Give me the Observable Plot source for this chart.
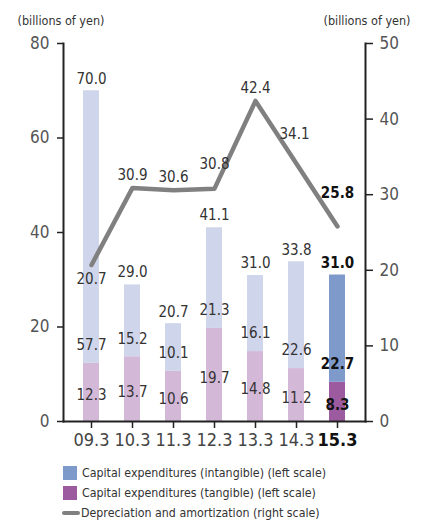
<!DOCTYPE html>
<html>
<head>
<meta charset="utf-8">
<script src="https://cdn.jsdelivr.net/npm/d3@7"></script>
<script src="https://cdn.jsdelivr.net/npm/@observablehq/plot@0.6"></script>
<style>
  body { margin: 0; background: #fff; font-family: "Liberation Sans Narrow", "DejaVu Sans Condensed", "Roboto", sans-serif; }
  #chart { width: 426px; }
  .legend { margin: 7px 0 0 63px; font-size: 12.3px; color: #333; }
  .legend .row { display: flex; align-items: center; height: 20px; }
  .legend .sw { width: 14px; height: 14px; margin-right: 5px; }
  .legend .ln { width: 18px; height: 4px; border-radius: 2px; background: #808080; margin: 0 1px 0 -1px; }
</style>
</head>
<body>
<div id="chart"></div>
<script>
// Fiscal years (ending March)
const periods = ["09.3", "10.3", "11.3", "12.3", "13.3", "14.3", "15.3"];
// Capital expenditures, billions of yen (left scale)
const capexTotal      = [70.0, 29.0, 20.7, 41.1, 31.0, 33.8, 31.0];
const capexIntangible = [57.7, 15.2, 10.1, 21.3, 16.1, 22.6, 22.7];
const capexTangible   = [12.3, 13.7, 10.6, 19.7, 14.8, 11.2, 8.3];
// Depreciation and amortization, billions of yen (right scale)
const depreciation    = [20.7, 30.9, 30.6, 30.8, 42.4, 34.1, 25.8];
// Axis ticks
const leftTicks  = [0, 20, 40, 60, 80];
const rightTicks = [0, 10, 20, 30, 40, 50];

const latest = periods[periods.length - 1];
const k = 80 / 50; // right-scale value -> left-scale value

const colors = {
  intangible: { past: "#cfd5ea", latest: "#7e9acb" },
  tangible:   { past: "#d3b8d8", latest: "#9b5b9e" }
};

// Tangible first so it sits at the bottom of each stack
const bars = [
  ...periods.map((p, i) => ({ period: p, kind: "tangible", value: capexTangible[i] })),
  ...periods.map((p, i) => ({ period: p, kind: "intangible", value: capexIntangible[i] }))
];
const rows = periods.map((p, i) => ({
  period: p,
  total: capexTotal[i],
  intangible: capexIntangible[i],
  tangible: capexTangible[i],
  dep: depreciation[i]
}));

const fmt = d3.format(".1f");
const labelFont = 15;
const isLatest = d => d.period === latest;
const notLatest = d => d.period !== latest;

// Offset of each depreciation label from its point
function depOffset(p) {
  if (p === "09.3") return { dx: 0, dy: 14 };
  if (p === "12.3") return { dx: 0, dy: -24 };
  if (p === "14.3") return { dx: -2, dy: -30 };
  if (p === "15.3") return { dx: 0, dy: -33 };
  return { dx: 0, dy: -13 };
}

const valueLabels = (data, bold) => [
  Plot.text(data, { x: "period", y: "total", text: d => fmt(d.total), dy: -12,
    fontSize: labelFont, fill: bold ? "#111" : "#333", fontWeight: bold ? "bold" : "normal" }),
  Plot.text(data, { x: "period", y: "tangible", text: d => fmt(d.intangible), dy: -18,
    fontSize: labelFont, fill: bold ? "#111" : "#333", fontWeight: bold ? "bold" : "normal" }),
  Plot.text(data, { x: "period", y: d => d.tangible / 2, text: d => fmt(d.tangible), dy: 3,
    fontSize: labelFont, fill: bold ? "#111" : "#333", fontWeight: bold ? "bold" : "normal" })
];

const depLabels = rows.map(r => {
  const o = depOffset(r.period);
  const bold = r.period === latest;
  return Plot.text([r], { x: "period", y: d => d.dep * k, text: d => fmt(d.dep),
    dx: o.dx, dy: o.dy, fontSize: labelFont,
    fill: bold ? "#111" : "#333", fontWeight: bold ? "bold" : "normal" });
});

const chart = Plot.plot({
  width: 426,
  height: 456,
  marginLeft: 63,
  marginRight: 61,
  marginTop: 43,
  marginBottom: 35,
  style: { fontFamily: '"Liberation Sans Narrow", "DejaVu Sans Condensed", "Roboto", sans-serif', background: "#fff" },
  x: { domain: periods, paddingInner: 0.617, paddingOuter: 0.42, label: null },
  y: { domain: [0, 80], label: null },
  marks: [
    Plot.barY(bars, {
      x: "period", y: "value",
      fill: d => colors[d.kind][d.period === latest ? "latest" : "past"]
    }),
    Plot.line(rows, { x: "period", y: d => d.dep * k, stroke: "#808080", strokeWidth: 4.5, strokeLinejoin: "round", strokeLinecap: "round" }),
    ...valueLabels(rows.filter(notLatest), false),
    ...valueLabels(rows.filter(isLatest), true),
    ...depLabels,
    // Axis lines
    Plot.frame({ anchor: "left", stroke: "#222", strokeWidth: 2 }),
    Plot.frame({ anchor: "right", stroke: "#222", strokeWidth: 2 }),
    Plot.frame({ anchor: "bottom", stroke: "#222", strokeWidth: 2 }),
    // Left axis
    Plot.axisY(leftTicks, { anchor: "left", tickSize: 6, tickPadding: 8, fontSize: 17,
      stroke: "#222", strokeWidth: 1.5, fill: "#555", label: null }),
    // Right axis (depreciation scale)
    Plot.axisY(rightTicks.map(v => v * k), { anchor: "right", tickSize: 7, tickPadding: 7, fontSize: 17,
      tickFormat: d => Math.round(d / k), stroke: "#222", strokeWidth: 1.5, fill: "#555", label: null }),
    // Bottom axis
    Plot.axisX(periods.filter(p => p !== latest), { tickSize: 7, tickPadding: 5, fontSize: 18,
      stroke: "#222", strokeWidth: 1.5, fill: "#444", label: null }),
    Plot.axisX([latest], { tickSize: 7, tickPadding: 5, fontSize: 18, fontWeight: "bold",
      stroke: "#222", strokeWidth: 1.5, fill: "#111", label: null }),
    // Unit labels
    Plot.text(["(billions of yen)"], { frameAnchor: "top-left", textAnchor: "start", dx: -46, dy: -27, fontSize: 12.5, fill: "#333" }),
    Plot.text(["(billions of yen)"], { frameAnchor: "top-right", textAnchor: "end", dx: 45, dy: -27, fontSize: 12.5, fill: "#333" })
  ]
});

document.getElementById("chart").append(chart);

// Legend
const legend = document.createElement("div");
legend.className = "legend";
legend.innerHTML = `
  <div class="row"><span class="sw" style="background:${colors.intangible.latest}"></span>Capital expenditures (intangible) (left scale)</div>
  <div class="row"><span class="sw" style="background:${colors.tangible.latest}"></span>Capital expenditures (tangible) (left scale)</div>
  <div class="row"><span class="ln"></span>Depreciation and amortization (right scale)</div>`;
document.getElementById("chart").append(legend);
</script>
</body>
</html>
